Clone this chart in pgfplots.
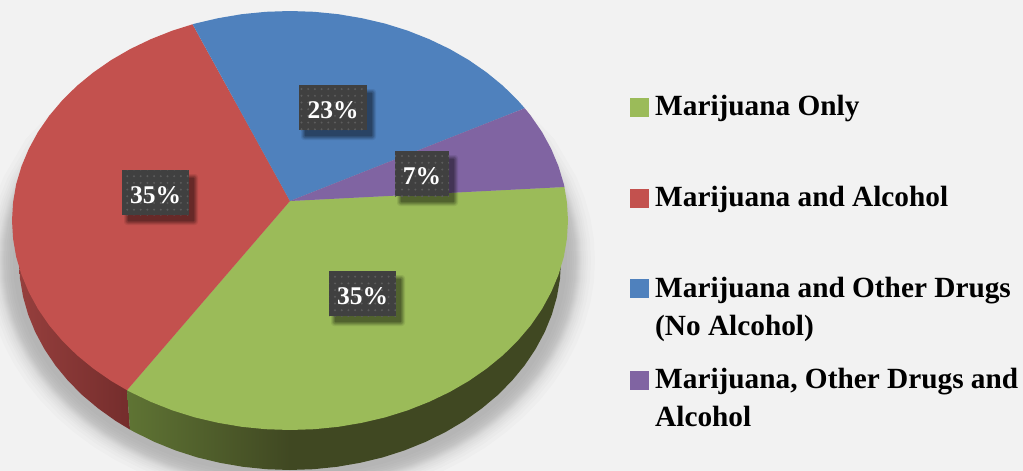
\documentclass[border=0pt]{standalone}
\usepackage{pgfplots}
\pgfplotsset{compat=1.18}
\usepackage{pgfplotstable}
\usepackage{fontspec}
\setmainfont{Liberation Serif}
\usetikzlibrary{patterns.meta}
\definecolor{bg}{HTML}{F2F2F2}
\definecolor{cgreen}{HTML}{9BBB59}
\definecolor{cred}{HTML}{C3514E}
\definecolor{cblue}{HTML}{4F81BD}
\definecolor{cpurple}{HTML}{8064A2}
\definecolor{boxc}{HTML}{404040}
\definecolor{dotc}{HTML}{5C5C5C}
\definecolor{sideredl}{HTML}{963F3D}
\definecolor{sideredr}{HTML}{742D2C}
\definecolor{sidegreenl}{HTML}{5F7434}
\definecolor{sidegreenr}{HTML}{404822}
\pgfplotstableread{
x y
19 260.5
20 278.8
23.1 296.9
28.2 314.7
35.3 332.1
44.4 349
55.3 365.3
68 380.7
82.4 395.2
98.4 408.6
115.8 421
134.6 432.1
154.5 441.9
175.5 450.4
197.3 457.4
219.9 462.8
243 466.8
266.4 469.2
290 470
313.6 469.2
337 466.8
360.1 462.8
382.7 457.4
404.5 450.4
425.5 441.9
445.4 432.1
464.2 421
481.6 408.6
497.6 395.2
512 380.7
524.7 365.3
535.6 349
544.7 332.1
551.8 314.7
556.9 296.9
560 278.8
561 260.5
560 242.2
556.9 224.1
551.8 206.3
544.7 188.9
524.7 155.8
481.6 112.4
98.4 112.4
55.3 155.8
35.3 188.9
28.2 206.3
23.1 224.1
20 242.2
}\shadowtable
\newcommand{\labelbox}[5]{% x0 x1 y0 y1 text
  \fill[black,opacity=.08,rounded corners=3pt] (axis cs:#1+2,#3+4) rectangle (axis cs:#2+9,#4+10);
  \fill[black,opacity=.10,rounded corners=3pt] (axis cs:#1+3,#3+5) rectangle (axis cs:#2+8,#4+9);
  \fill[black,opacity=.12,rounded corners=2pt] (axis cs:#1+4,#3+6) rectangle (axis cs:#2+7,#4+8);
  \fill[black,opacity=.14,rounded corners=2pt] (axis cs:#1+5,#3+7) rectangle (axis cs:#2+6,#4+7);
  \fill[black,opacity=.14] (axis cs:#1+6,#3+8) rectangle (axis cs:#2+5,#4+6);
  \fill[boxc] (axis cs:#1,#3) rectangle (axis cs:#2,#4);
  \fill[pattern={Dots[distance=6.7pt,radius=1.1pt]},pattern color=dotc] (axis cs:#1,#3) rectangle (axis cs:#2,#4);
  \node[anchor=base,text=white,font=\fontsize{25.5}{25.5}\selectfont\bfseries,inner sep=0pt] at (axis cs:{(#1+#2)/2},{#4-12}) {#5};
}
\newcommand{\legtext}[3]{\node[anchor=base west,inner sep=0pt,font=\fontsize{29.3}{29.3}\selectfont\bfseries] at (axis cs:#1,#2) {#3};}
\begin{document}
\begin{tikzpicture}
\begin{axis}[
  scale only axis, width=1023pt, height=471pt,
  xmin=0, xmax=1023, ymin=0, ymax=471, y dir=reverse,
  axis lines=none, clip=true,
]
% background
\addplot[fill=bg,draw=none] coordinates {(0,0) (1023,0) (1023,471) (0,471)} -- cycle;
% soft shadow
\pgfplotsinvokeforeach{34,30,27,25,23,21,20,19,18,17,16,15,13,11,9,6}{
  \addplot[fill=black,draw=none,opacity=.0155] table[
    x expr={290+(\thisrow{x}-290)*(271+#1)/271},
    y expr={260.5+(\thisrow{y}-260.5)*(209.5+#1)/209.5}] {\shadowtable} -- cycle;
}
% side, red
\addplot[draw=none,left color=sideredl,right color=sideredr] coordinates {
(127,390.2) (100,300) (19,260.5) (20,278.8) (23.1,296.9) (28.2,314.7) (35.3,332.1) (44.4,349) (55.3,365.3) (68,380.7) (82.4,395.2) (98.4,408.6) (115.8,421) (130,429.6)} -- cycle;
% side, green: gradient part and dark part
\addplot[draw=none,fill=sidegreenr] coordinates {
(289,260.5) (289,470) (313.6,469.2) (337,466.8) (360.1,462.8) (382.7,457.4) (404.5,450.4) (425.5,441.9) (445.4,432.1) (464.2,421) (481.6,408.6) (497.6,395.2) (512,380.7) (524.7,365.3) (535.6,349) (544.7,332.1) (551.8,314.7) (556.9,296.9) (560,278.8) (561,260.5)} -- cycle;
\addplot[draw=none,left color=sidegreenl,right color=sidegreenr] coordinates {
(127,390.2) (130,429.6) (134.6,432.1) (154.5,441.9) (175.5,450.4) (197.3,457.4) (219.9,462.8) (243,466.8) (266.4,469.2) (290,470) (290,400)} -- cycle;
% top, green 35 %
\addplot[fill=cgreen,draw=none] coordinates {
(290,201) (564.4,187) (566.9,202.2) (568,220.5) (566.9,238.8) (563.8,256.9) (558.5,274.7) (551.2,292.1) (542,309) (530.8,325.3) (517.7,340.7) (503,355.2) (486.6,368.6) (468.7,381) (449.5,392.1) (429,401.9) (407.5,410.4) (385.1,417.4) (361.9,422.8) (338.3,426.8) (314.2,429.2) (290,430) (265.8,429.2) (241.7,426.8) (218.1,422.8) (194.9,417.4) (172.5,410.4) (151,401.9) (130.5,392.1) (127,390.2)} -- cycle;
% top, red 35 %
\addplot[fill=cred,draw=none] coordinates {
(290,201) (127,390.2) (111.3,381) (93.4,368.6) (77,355.2) (62.3,340.7) (49.2,325.3) (38,309) (28.8,292.1) (21.5,274.7) (16.2,256.9) (13.1,238.8) (12,220.5) (13.1,202.2) (16.2,184.1) (21.5,166.3) (28.8,148.9) (38,132) (49.2,115.8) (62.3,100.3) (77,85.8) (93.4,72.4) (111.3,60) (130.5,48.9) (151,39.1) (172.5,30.6) (192.6,24.3)} -- cycle;
% top, blue 23 %
\addplot[fill=cblue,draw=none] coordinates {
(290,201) (192.6,24.3) (194.9,23.6) (218.1,18.2) (241.7,14.2) (265.8,11.8) (290,11) (314.2,11.8) (338.3,14.2) (361.9,18.2) (385.1,23.6) (407.5,30.6) (429,39.1) (449.5,48.9) (468.7,60) (486.6,72.4) (503,85.8) (517.7,100.3) (524.7,108.2)} -- cycle;
% top, purple 7 %
\addplot[fill=cpurple,draw=none] coordinates {
(290,201) (524.7,108.2) (530.8,115.8) (542,132) (551.2,148.9) (558.5,166.3) (563.8,184.1) (564.4,187)} -- cycle;
% legend swatches
\addplot[only marks,mark=square*,mark size=9pt,mark options={draw=cgreen,fill=cgreen,line width=0pt}] coordinates {(639,107)};
\addplot[only marks,mark=square*,mark size=9pt,mark options={draw=cred,fill=cred,line width=0pt}] coordinates {(639,198)};
\addplot[only marks,mark=square*,mark size=9pt,mark options={draw=cblue,fill=cblue,line width=0pt}] coordinates {(639,288)};
\addplot[only marks,mark=square*,mark size=9pt,mark options={draw=cpurple,fill=cpurple,line width=0pt}] coordinates {(639,380)};
\legtext{655}{115.5}{Marijuana Only}
\legtext{655}{206}{Marijuana and Alcohol}
\legtext{655}{297}{Marijuana and Other Drugs}
\legtext{655}{335}{(No Alcohol)}
\legtext{655}{388}{Marijuana, Other Drugs and}
\legtext{655}{426}{Alcohol}
\labelbox{299}{367}{85}{130}{23\%}
\labelbox{395}{449}{151}{196}{7\%}
\labelbox{329}{396}{271}{316}{35\%}
\labelbox{122}{189}{170}{215}{35\%}
\end{axis}
\end{tikzpicture}
\end{document}
